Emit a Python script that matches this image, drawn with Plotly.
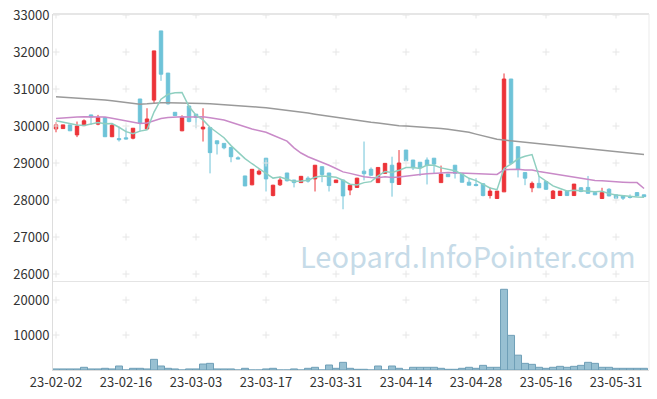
import plotly.graph_objects as go

# ---------------- data ----------------
dates = (
    ["23-02-%02d" % d for d in [2, 3, 6, 7, 8, 9, 10, 13, 14, 15, 16, 17, 20, 21, 22, 23, 24, 27, 28]]
    + ["23-03-%02d" % d for d in [2, 3, 6, 7, 8, 9, 10, 13, 14, 15, 16, 17, 20, 21, 22, 23, 24, 27, 28, 29, 30, 31]]
    + ["23-04-%02d" % d for d in [3, 4, 5, 6, 7, 10, 11, 12, 13, 14, 17, 18, 19, 20, 21, 24, 25, 26, 27, 28]]
    + ["23-05-%02d" % d for d in [2, 3, 4, 8, 9, 10, 11, 12, 15, 16, 17, 18, 19, 22, 23, 24, 25, 26, 30, 31]]
    + ["23-06-%02d" % d for d in [1, 2, 5, 7]]
)

opens = [29920, 29930, 30030, 29760, 30010, 30300, 30050, 30230, 29710, 29660,
         29680, 29670, 30730, 29920, 30700, 32570, 31430, 30370, 29870, 30540,
         30320, 29920, 29960, 29600, 29530, 29420, 29140, 28650, 28410, 28700,
         29130, 28120, 28410, 28730, 28540, 28470, 28590, 28570, 28900, 28730,
         28470, 28540, 28270, 28340, 28780, 28830, 28470, 28720, 28940, 28420,
         29350, 29080, 29020, 29080, 29130, 28470, 28700, 28940, 28720, 28480,
         28420, 28440, 28120, 28040, 28220, 31270, 29440, 28740, 28330, 28450,
         28500, 28040, 28120, 28240, 28120, 28330, 28340, 28200, 28040, 28290,
         28140, 28120, 28090, 28200, 28140]
highs = [30100, 30030, 30030, 30120, 30180, 30300, 30300, 30230, 30060, 29980,
         29960, 29940, 30730, 30480, 32030, 32570, 31430, 30370, 30290, 30540,
         30320, 30480, 29960, 29600, 29530, 29420, 29180, 28650, 28830, 28830,
         29130, 28410, 28630, 28730, 28540, 28640, 28640, 28940, 28900, 28730,
         28540, 28540, 28400, 28600, 29580, 28880, 28880, 28990, 29170, 29350,
         29350, 29080, 29020, 29150, 29130, 28930, 28700, 28940, 28720, 28590,
         28590, 28440, 28340, 28240, 31420, 31270, 29440, 28740, 28500, 28650,
         28500, 28270, 28240, 28240, 28430, 28350, 28650, 28200, 28330, 28320,
         28140, 28120, 28150, 28200, 28140]
lows = [29830, 29930, 29870, 29700, 30000, 30030, 30020, 29710, 29700, 29580,
        29640, 29640, 29850, 29900, 30620, 31220, 30580, 30270, 29860, 30100,
        29950, 29580, 28720, 29230, 29370, 29020, 29110, 28380, 28400, 28670,
        28230, 28100, 28380, 28500, 28340, 28470, 28470, 28230, 28480, 28230,
        28470, 27750, 28130, 28330, 28530, 28650, 28470, 28720, 28090, 28420,
        29060, 28810, 28650, 28420, 28720, 28470, 28630, 28580, 28480, 28400,
        28370, 28100, 28040, 28040, 28220, 28990, 28610, 28400, 28210, 28330,
        28270, 28040, 28120, 28120, 28120, 28210, 28180, 28140, 28040, 28100,
        28040, 28000, 28040, 28110, 28080]
closes = [30030, 30030, 29870, 30000, 30140, 30240, 30230, 29710, 30020, 29630,
          29650, 29940, 30070, 30190, 32030, 31400, 30600, 30280, 30230, 30120,
          30230, 29970, 29280, 29520, 29410, 29170, 29110, 28380, 28830, 28780,
          28570, 28400, 28540, 28520, 28470, 28640, 28510, 28940, 28690, 28390,
          28540, 28110, 28400, 28590, 28710, 28670, 28880, 28990, 28470, 29000,
          29060, 28870, 28870, 28930, 28970, 28700, 28630, 28720, 28480, 28400,
          28390, 28120, 28240, 28240, 31270, 28990, 28830, 28590, 28450, 28330,
          28290, 28240, 28240, 28120, 28430, 28230, 28180, 28140, 28200, 28110,
          28050, 28050, 28070, 28110, 28090]

ma5 = [30140, 30100, 30060, 30030, 30014, 30056, 30096, 30064, 30068, 29966,
       29848, 29790, 29862, 29896, 30376, 30726, 30858, 30900, 30908, 30526,
       30292, 30166, 29966, 29824, 29682, 29470, 29298, 29118, 28980, 28854,
       28734, 28592, 28624, 28562, 28500, 28514, 28536, 28616, 28650, 28634,
       28614, 28534, 28426, 28406, 28470, 28496, 28650, 28768, 28744, 28802,
       28880, 28878, 28854, 28946, 28940, 28868, 28820, 28790, 28700, 28586,
       28524, 28422, 28326, 28278, 28852, 28972, 29114, 29184, 29226, 28638,
       28498, 28380, 28310, 28244, 28264, 28252, 28240, 28220, 28236, 28172,
       28136, 28110, 28096, 28078, 28074]
ma20 = [30200, 30220, 30230, 30240, 30250, 30250, 30250, 30240, 30210, 30180,
        30140, 30100, 30070, 30080, 30140, 30200, 30230, 30250, 30250, 30240,
        30250, 30250, 30220, 30190, 30160, 30100, 30050, 29980, 29920, 29880,
        29830, 29750, 29670, 29590, 29410, 29270, 29170, 29100, 29020, 28940,
        28850, 28760, 28720, 28670, 28630, 28610, 28600, 28630, 28610, 28620,
        28650, 28670, 28690, 28710, 28730, 28730, 28740, 28730, 28720, 28720,
        28710, 28710, 28700, 28690, 28820, 28830, 28830, 28810, 28810, 28770,
        28740, 28700, 28670, 28630, 28610, 28580, 28560, 28530, 28520, 28500,
        28480, 28480, 28470, 28470, 28310]
ma_long = [30790, 30780, 30770, 30760, 30740, 30730, 30710, 30700, 30680, 30660,
           30630, 30600, 30590, 30600, 30620, 30630, 30630, 30630, 30630, 30630,
           30620, 30610, 30600, 30590, 30580, 30570, 30560, 30550, 30530, 30510,
           30490, 30470, 30450, 30420, 30400, 30380, 30350, 30320, 30290, 30260,
           30240, 30210, 30180, 30150, 30130, 30100, 30080, 30050, 30030, 30010,
           30000, 29990, 29980, 29960, 29950, 29930, 29910, 29890, 29860, 29830,
           29780, 29730, 29680, 29640, 29620, 29600, 29580, 29560, 29540, 29520,
           29500, 29480, 29450, 29430, 29410, 29390, 29370, 29350, 29330, 29310,
           29290, 29270, 29260, 29240, 29230]
volume = [300, 300, 300, 300, 770, 300, 300, 480, 300, 1140,
          0, 480, 480, 300, 3050, 1140, 480, 300, 0, 300,
          300, 1710, 1900, 300, 300, 300, 0, 480, 0, 0,
          300, 480, 0, 0, 300, 0, 480, 770, 0, 1430,
          480, 2190, 480, 200, 200, 0, 1140, 0, 1140, 480,
          0, 770, 770, 770, 770, 480, 200, 200, 480, 770,
          480, 1330, 770, 770, 23060, 9900, 4240, 1900, 1620, 770,
          480, 770, 1050, 770, 1050, 1330, 2190, 1900, 770, 770,
          480, 480, 480, 480, 480]

price_ticks = [26000, 27000, 28000, 29000, 30000, 31000, 32000, 33000]
volume_ticks = [10000, 20000]
label_step = 10

# ---------------- figure ----------------
idx = list(range(len(dates)))
tick_idx = idx[::label_step]
tick_txt = [dates[i] for i in tick_idx]

RED = "#ec3338"
BLUE = "#6ec3d8"
FONT = "Noto Sans CJK KR"

fig = go.Figure()

# faint grid crosses at tick intersections
gx, gy, gx2, gy2 = [], [], [], []
for t in tick_idx:
    for p in price_ticks:
        gx.append(t); gy.append(p)
    for v in volume_ticks:
        gx2.append(t); gy2.append(v)
cross = dict(symbol="cross-thin", size=5, line=dict(color="#e6e6e6", width=1), color="#e6e6e6")
fig.add_trace(go.Scatter(x=gx, y=gy, mode="markers", marker=cross, hoverinfo="skip",
                         showlegend=False, xaxis="x", yaxis="y"))
fig.add_trace(go.Scatter(x=gx2, y=gy2, mode="markers", marker=cross, hoverinfo="skip",
                         showlegend=False, xaxis="x2", yaxis="y2"))

fig.add_trace(go.Scatter(x=idx, y=ma_long, mode="lines", line=dict(color="#9a9a9a", width=1.5),
                         showlegend=False, xaxis="x", yaxis="y"))
fig.add_trace(go.Scatter(x=idx, y=ma20, mode="lines", line=dict(color="#c98ac8", width=1.5),
                         showlegend=False, xaxis="x", yaxis="y"))
fig.add_trace(go.Scatter(x=idx, y=ma5, mode="lines", line=dict(color="#8fcfc0", width=1.5),
                         showlegend=False, xaxis="x", yaxis="y"))

fig.add_trace(go.Candlestick(
    x=idx, open=opens, high=highs, low=lows, close=closes,
    increasing=dict(line=dict(color=RED, width=1), fillcolor=RED),
    decreasing=dict(line=dict(color=BLUE, width=1), fillcolor=BLUE),
    whiskerwidth=0, showlegend=False, xaxis="x", yaxis="y"))

fig.add_trace(go.Bar(x=idx, y=volume, width=1.0,
                     marker=dict(color="#98c0d2", line=dict(color="#6f9fb7", width=1)),
                     showlegend=False, xaxis="x2", yaxis="y2"))

xr = [-0.43, 84.71]
fig.update_layout(
    width=657, height=399,
    margin=dict(l=53, r=8, t=14, b=29, autoexpand=False),
    paper_bgcolor="white", plot_bgcolor="white",
    font=dict(family=FONT, size=13, color="#333333"),
    bargap=0, hovermode=False, dragmode=False,
    xaxis=dict(domain=[0, 1], anchor="y", range=xr, showticklabels=False, showgrid=False,
               zeroline=False, showline=True, linecolor="#e4e4e4", linewidth=1,
               rangeslider=dict(visible=False), ticks="", automargin=False),
    xaxis2=dict(domain=[0, 1], anchor="y2", range=xr, matches="x", tickmode="array",
                tickvals=tick_idx, ticktext=tick_txt, showgrid=False, zeroline=False,
                showline=True, linecolor="#dddddd", linewidth=1, ticks="", automargin=False),
    yaxis=dict(domain=[0.25, 1], range=[25811, 33027], tickmode="array", tickvals=price_ticks,
               showgrid=False, zeroline=False, showline=True, linecolor="#dddddd",
               ticks="", tickformat="d", automargin=False),
    yaxis2=dict(domain=[0, 0.25], range=[0, 25430], tickmode="array", tickvals=volume_ticks,
                showgrid=False, zeroline=False, showline=True, linecolor="#dddddd",
                ticks="", tickformat="d", automargin=False),
    shapes=[
        dict(type="line", xref="paper", yref="paper", x0=0, x1=1, y0=1, y1=1,
             line=dict(color="#e6e6e6", width=2)),
        dict(type="line", xref="paper", yref="paper", x0=1, x1=1, y0=0, y1=1,
             line=dict(color="#ebebeb", width=1)),
    ],
    annotations=[dict(text="Leopard.InfoPointer.com", xref="paper", yref="paper",
                      x=0.696, y=0.323, xanchor="center", yanchor="middle", showarrow=False,
                      font=dict(family=FONT, size=29, color="#c6dbe8"))],
)

# remove the browser's default 8px body margin so the figure sits at the window origin
fig.write_html("out.html", config={"displayModeBar": False, "staticPlot": True},
               post_script="document.body.style.margin='0px';")
